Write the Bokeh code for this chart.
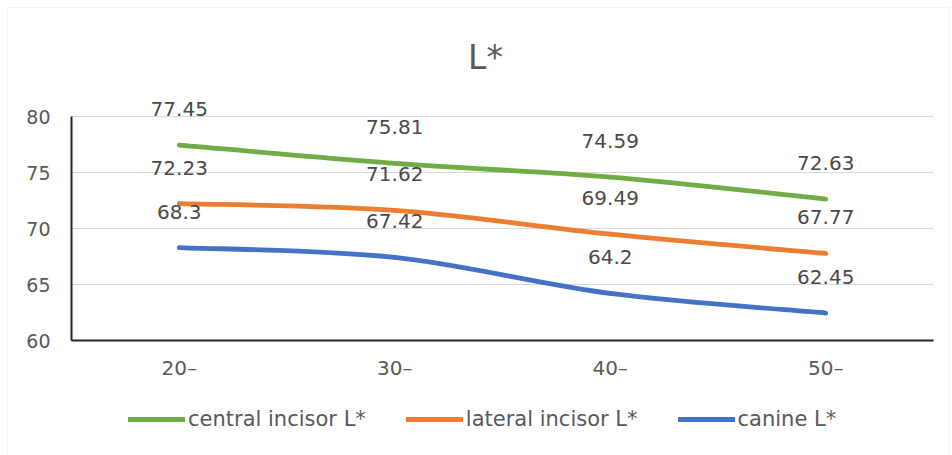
from bokeh.plotting import figure
from bokeh.models import (ColumnDataSource, Legend, LegendItem, LabelSet,
                          Label, Range1d, BoxAnnotation)
from bokeh.core.properties import value
from bokeh.embed import file_html
from bokeh.resources import INLINE

# age groups and mean L* values per tooth type
age_groups = ["20–", "30–", "40–", "50–"]
central_incisor = [77.45, 75.81, 74.59, 72.63]
lateral_incisor = [72.23, 71.62, 69.49, 67.77]
canine = [68.3, 67.42, 64.2, 62.45]
y_ticks = [60, 65, 70, 75, 80]
y_tick_labels = ["60", "65", "70", "75", "80"]

series_names = ["central incisor L*", "lateral incisor L*", "canine L*"]
series_values = [central_incisor, lateral_incisor, canine]
series_colors = ["#70ad47", "#ed7d31", "#4472c4"]

FONT = "DejaVu Sans"
GREY = "#595959"
AXIS = "#262626"

# the frame covers the whole canvas; the plot area sits inside it
W, H = 952, 455
PA_LEFT, PA_RIGHT = 71, 933                 # pixel columns of plot area
PA_TOP, PA_BOTTOM = 116, 340                # pixel rows of y=80 and y=60
n_cat = len(age_groups)
px_per_cat = (PA_RIGHT - PA_LEFT) / n_cat
px_per_unit = (PA_BOTTOM - PA_TOP) / (y_ticks[-1] - y_ticks[0])
x_start = -PA_LEFT / px_per_cat
x_end = n_cat + (W - PA_RIGHT) / px_per_cat
y_start = y_ticks[0] - (H - PA_BOTTOM) / px_per_unit
y_end = y_ticks[-1] + PA_TOP / px_per_unit

x_pos = [i + 0.5 for i in range(n_cat)]

p = figure(width=W, height=H, output_backend="svg", toolbar_location=None,
           x_range=Range1d(x_start, x_end), y_range=Range1d(y_start, y_end),
           min_border=0, x_axis_type=None, y_axis_type=None)
p.title.visible = False
p.outline_line_color = None
p.background_fill_color = "white"
p.border_fill_color = "white"
p.grid.visible = False

# outer chart-area border (screen y counts up from the bottom edge)
p.add_layout(BoxAnnotation(left=7, right=W - 4, top=H - 7, bottom=-5,
                           left_units="screen", right_units="screen",
                           top_units="screen", bottom_units="screen",
                           fill_alpha=0, line_color="#d9d9d9",
                           line_width=1.2))

# horizontal gridlines across the plot area
p.segment(x0=[0] * len(y_ticks), x1=[n_cat] * len(y_ticks), y0=y_ticks,
          y1=y_ticks, line_color="#d9d9d9", line_width=1)

# value axis line and category axis line
p.segment(x0=[0, 0], y0=[y_ticks[0], y_ticks[0]], x1=[0, n_cat],
          y1=[y_ticks[-1], y_ticks[0]], line_color=AXIS, line_width=2)

# value tick labels
ytl_src = ColumnDataSource(dict(x=[0] * len(y_ticks), y=y_ticks,
                                t=y_tick_labels))
p.add_layout(LabelSet(x="x", y="y", text="t", source=ytl_src, x_offset=-21,
                      text_align="right", text_baseline="middle",
                      text_font=value(FONT), text_font_size=value("19px"),
                      text_color=GREY))

# category labels under the baseline
cat_src = ColumnDataSource(dict(x=x_pos, y=[y_ticks[0]] * n_cat,
                                t=age_groups))
p.add_layout(LabelSet(x="x", y="y", text="t", source=cat_src, y_offset=-27,
                      text_align="center", text_baseline="middle",
                      text_font=value(FONT), text_font_size=value("20px"),
                      text_color=GREY))


def smooth_controls(xs, ys):
    """Bezier control points for a smoothed polyline through the points."""
    n = len(xs)
    px = [xs[0]] + list(xs) + [xs[-1]]
    py = [ys[0]] + list(ys) + [ys[-1]]
    out = dict(x0=[], y0=[], x1=[], y1=[], cx0=[], cy0=[], cx1=[], cy1=[])
    for i in range(n - 1):
        a, b = i + 1, i + 2
        out["x0"].append(px[a]); out["y0"].append(py[a])
        out["x1"].append(px[b]); out["y1"].append(py[b])
        out["cx0"].append(px[a] + (px[b] - px[a - 1]) / 6)
        out["cy0"].append(py[a] + (py[b] - py[a - 1]) / 6)
        out["cx1"].append(px[b] - (px[b + 1] - px[a]) / 6)
        out["cy1"].append(py[b] - (py[b + 1] - py[a]) / 6)
    return out


items = []
for name, vals, col in zip(series_names, series_values, series_colors):
    src = ColumnDataSource(smooth_controls(x_pos, vals))
    r = p.bezier(x0="x0", y0="y0", x1="x1", y1="y1", cx0="cx0", cy0="cy0",
                 cx1="cx1", cy1="cy1", source=src, line_color=col,
                 line_width=4.8, line_cap="round")
    items.append(LegendItem(label=name, renderers=[r]))
    lab_src = ColumnDataSource(dict(x=x_pos, y=vals,
                                    t=[f"{v:g}" for v in vals]))
    p.add_layout(LabelSet(x="x", y="y", text="t", source=lab_src,
                          y_offset=36, text_align="center",
                          text_baseline="middle", text_font=value(FONT),
                          text_font_size=value("20px"),
                          text_color="#4a4a4a"))

legend = Legend(items=items, orientation="horizontal", location=(128, 24),
                label_text_font=FONT, label_text_font_size="21px",
                label_text_color=GREY, glyph_width=57, glyph_height=20,
                label_standoff=3, spacing=40, padding=0, margin=0,
                border_line_color=None, background_fill_alpha=0)
p.add_layout(legend, "center")

# chart title
p.add_layout(Label(x=485, y=H - 57, x_units="screen", y_units="screen",
                   text="L*", text_font=FONT, text_font_size="33px",
                   text_color=GREY, text_align="center",
                   text_baseline="middle"))

open("out.html", "w").write(file_html(p, INLINE))
